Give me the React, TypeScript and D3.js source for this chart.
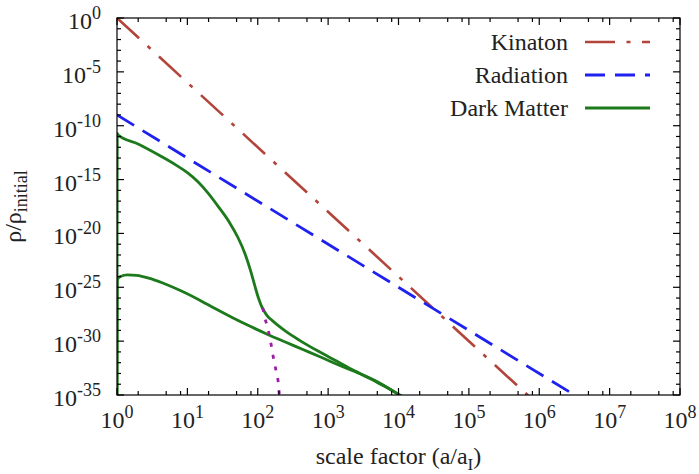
import { useRef, useEffect } from 'react';
import * as d3 from 'd3';

const FONT = '"Liberation Serif", "DejaVu Serif", serif';

// axis decades (powers of ten)
const X_MAJOR = [0, 1, 2, 3, 4, 5, 6, 7, 8];
const X_MINOR_MULT = [2, 5, 8];
const Y_MAJOR = [0, -5, -10, -15, -20, -25, -30, -35];

// straight power laws, end points as (a, rho)
const kinatonA = [1, 1e6];
const kinatonRho = [1, 1e-36];
const radiationA = [1, 1e7];
const radiationRho = [1e-9, 1e-37];

// dark matter branches, as log10(a) / log10(rho)
const dmUpperLogA = [0, 0.004, 0.018, 0.3, 0.6, 0.85, 1.0, 1.15, 1.3, 1.45, 1.6, 1.72, 1.82, 1.9, 1.96, 2.01, 2.05, 2.09, 2.13, 2.19, 2.27, 2.4, 2.6, 2.85, 3.12, 3.36, 3.6, 3.8, 3.97, 4.1];
const dmUpperLogRho = [-36, -10.72, -10.86, -11.7, -12.75, -13.7, -14.35, -15.2, -16.3, -17.6, -19.0, -20.4, -21.9, -23.5, -24.9, -26.0, -26.7, -27.2, -27.6, -28.0, -28.45, -29.1, -29.95, -30.9, -31.85, -32.7, -33.5, -34.2, -34.8, -35.3];

const dmLowerLogA = [0, 0.004, 0.05, 0.15, 0.28, 0.45, 0.65, 0.9, 1.15, 1.4, 1.65, 1.9, 2.15, 2.4, 2.65, 2.9, 3.2, 3.5, 3.75, 3.95, 4.1];
const dmLowerLogRho = [-36, -24.3, -24.0, -23.85, -23.9, -24.15, -24.6, -25.3, -26.1, -27.0, -27.85, -28.65, -29.4, -30.1, -30.8, -31.5, -32.35, -33.15, -33.95, -34.75, -35.4];

// decaying component leaving the upper branch
const decayLogA = [2.07, 2.102, 2.149, 2.183, 2.22, 2.258, 2.29, 2.305, 2.315];
const decayLogRho = [-26.9, -27.85, -28.96, -30.05, -31.44, -32.68, -33.76, -34.84, -35.4];

const KINATON_COLOR = '#b3443b';
const RADIATION_COLOR = '#1f22ee';
const DM_COLOR = '#1c7a1c';
const DECAY_COLOR = '#9a1fa6';

const LEGEND = [
  { label: 'Kinaton', color: KINATON_COLOR, dash: '30,11.5,4,11.5', width: 2.6 },
  { label: 'Radiation', color: RADIATION_COLOR, dash: '20,10', width: 2.8 },
  { label: 'Dark Matter', color: DM_COLOR, dash: null, width: 2.8 },
];

export default function App() {
  const ref = useRef<SVGSVGElement>(null);

  useEffect(() => {
    const svg = d3.select(ref.current);
    svg.selectAll('*').remove();

    const W = 699, H = 474;
    const m = { left: 117, right: 19, top: 18, bottom: 79 };
    const x0 = m.left, x1 = W - m.right, y0 = m.top, y1 = H - m.bottom;

    const x = d3.scaleLog().domain([1, 1e8]).range([x0, x1]);
    const y = d3.scaleLog().domain([1e-35, 1]).range([y1, y0]);

    svg.append('rect').attr('width', W).attr('height', H).attr('fill', '#fff');

    svg.append('defs').append('clipPath').attr('id', 'plot-clip')
      .append('rect').attr('x', x0).attr('y', y0).attr('width', x1 - x0).attr('height', y1 - y0);

    const plot = svg.append('g').attr('clip-path', 'url(#plot-clip)');
    const pts = (la: number[], lr: number[]) => la.map((v, i) => [Math.pow(10, v), Math.pow(10, lr[i])] as [number, number]);
    const line = d3.line<[number, number]>().x(d => x(d[0])).y(d => y(d[1])).curve(d3.curveMonotoneX);
    const straight = d3.line<[number, number]>().x(d => x(d[0])).y(d => y(d[1]));

    // ── curves ────────────────────────────────────────────────
    plot.append('path').attr('d', straight(kinatonA.map((a, i) => [a, kinatonRho[i]] as [number, number])))
      .attr('fill', 'none').attr('stroke', KINATON_COLOR).attr('stroke-width', 2.6)
      .attr('stroke-dasharray', LEGEND[0].dash);
    plot.append('path').attr('d', straight(radiationA.map((a, i) => [a, radiationRho[i]] as [number, number])))
      .attr('fill', 'none').attr('stroke', RADIATION_COLOR).attr('stroke-width', 2.8)
      .attr('stroke-dasharray', LEGEND[1].dash);
    [pts(dmUpperLogA, dmUpperLogRho), pts(dmLowerLogA, dmLowerLogRho)].forEach(d => {
      plot.append('path').attr('d', line(d)).attr('fill', 'none')
        .attr('stroke', DM_COLOR).attr('stroke-width', 2.8).attr('stroke-linejoin', 'round');
    });
    plot.append('path').attr('d', line(pts(decayLogA, decayLogRho))).attr('fill', 'none')
      .attr('stroke', DECAY_COLOR).attr('stroke-width', 2.8)
      .attr('stroke-dasharray', '4,8');

    // ── frame + ticks ─────────────────────────────────────────
    const axes = svg.append('g').attr('stroke', '#000').attr('stroke-width', 1.2);
    const tick = (xa: number, ya: number, xb: number, yb: number) =>
      axes.append('line').attr('x1', xa).attr('y1', ya).attr('x2', xb).attr('y2', yb);

    X_MAJOR.forEach(k => {
      const px = x(Math.pow(10, k));
      tick(px, y1, px, y1 - 7); tick(px, y0, px, y0 + 7);
      if (k < 8) X_MINOR_MULT.forEach(mu => {
        const mx = x(mu * Math.pow(10, k));
        tick(mx, y1, mx, y1 - 4); tick(mx, y0, mx, y0 + 4);
      });
    });
    d3.range(0, -36, -1).forEach(k => {
      const py = y(Math.pow(10, k));
      const len = k % 5 === 0 ? 7 : 4;
      tick(x0, py, x0 + len, py); tick(x1, py, x1 - len, py);
    });
    axes.append('rect').attr('x', x0).attr('y', y0).attr('width', x1 - x0).attr('height', y1 - y0)
      .attr('fill', 'none');

    // ── tick labels ───────────────────────────────────────────
    const labels = svg.append('g').style('font-family', FONT).attr('fill', '#222');
    X_MAJOR.forEach(k => {
      const t = labels.append('text').attr('x', x(Math.pow(10, k))).attr('y', y1 + 33)
        .attr('text-anchor', 'middle').attr('font-size', 24);
      t.append('tspan').text('10');
      t.append('tspan').attr('dy', -10).attr('font-size', 18).text(String(k));
    });
    Y_MAJOR.forEach(k => {
      const t = labels.append('text').attr('x', 101).attr('y', y(Math.pow(10, k)) + 11)
        .attr('text-anchor', 'end').attr('font-size', 24);
      t.append('tspan').text('10');
      t.append('tspan').attr('dy', -10).attr('font-size', 18).text(String(k));
    });

    // axis titles
    const xt = labels.append('text').attr('x', (x0 + x1) / 2).attr('y', 464)
      .attr('text-anchor', 'middle').attr('font-size', 24);
    xt.append('tspan').text('scale factor (a/a');
    xt.append('tspan').attr('dy', 6).attr('font-size', 17).text('I');
    xt.append('tspan').attr('dy', -6).text(')');

    const yt = labels.append('text').attr('transform', `translate(21,${(y0 + y1) / 2}) rotate(-90)`)
      .attr('text-anchor', 'middle').attr('font-size', 24);
    yt.append('tspan').text('ρ/ρ');
    yt.append('tspan').attr('dy', 6).attr('font-size', 18).text('initial');

    // ── legend ────────────────────────────────────────────────
    LEGEND.forEach((e, i) => {
      const ly = 42 + i * 33;
      labels.append('text').attr('x', 568).attr('y', ly + 8).attr('text-anchor', 'end')
        .attr('font-size', 24).text(e.label);
      svg.append('line').attr('x1', 585).attr('x2', 650).attr('y1', ly).attr('y2', ly)
        .attr('stroke', e.color).attr('stroke-width', e.width)
        .attr('stroke-dasharray', e.dash);
    });
  }, []);

  return <svg ref={ref} width={699} height={474} style={{ position: 'absolute', left: 0, top: 0 }} />;
}
